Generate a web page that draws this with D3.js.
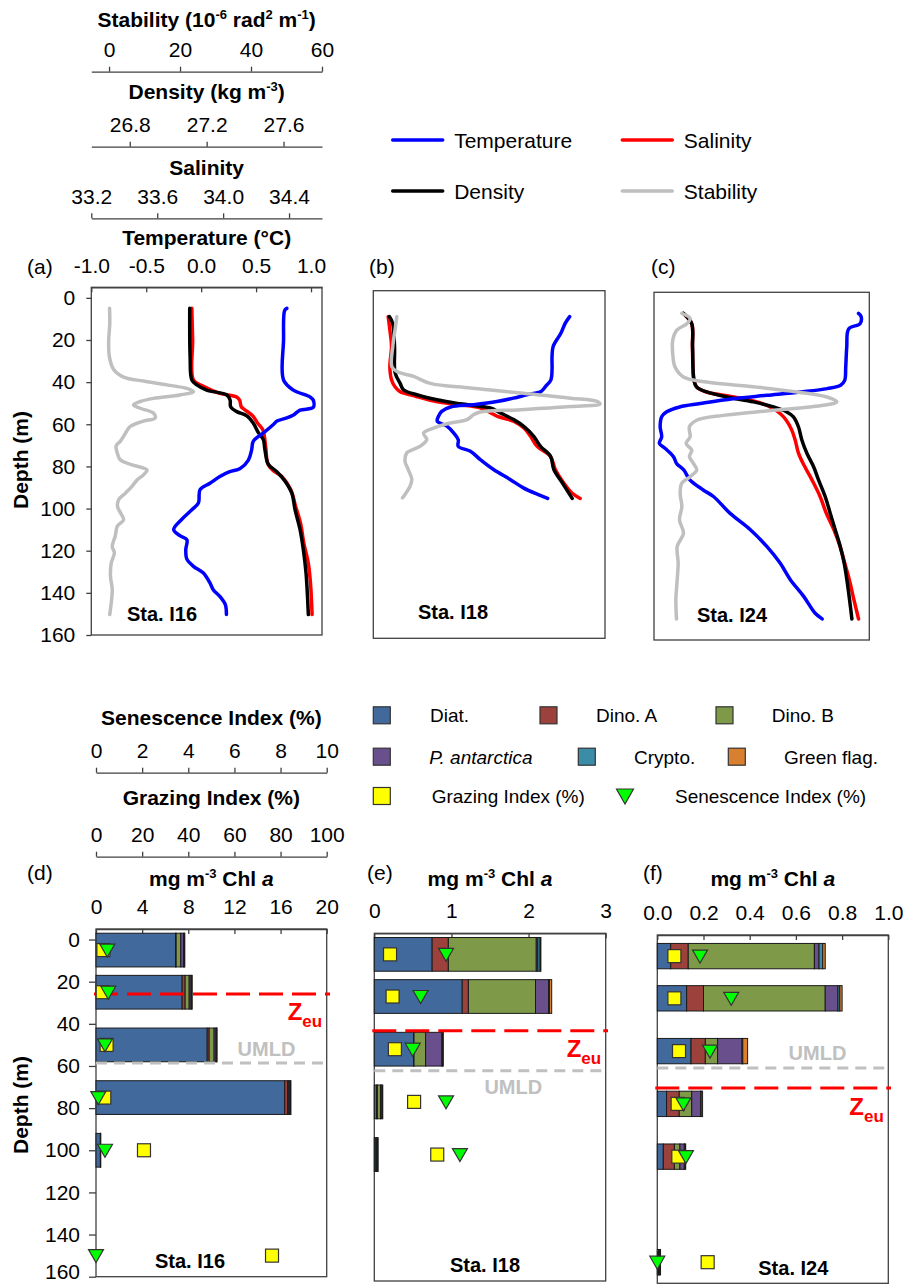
<!DOCTYPE html>
<html>
<head>
<meta charset="utf-8">
<script src="https://cdn.jsdelivr.net/npm/d3@7"></script>
<style>
body { margin: 0; background: #fff; }
svg { display: block; }
</style>
</head>
<body>
<svg id="chart" width="921" height="1284"></svg>
<script>
// ---------- profile data: [depth (m), value] ----------
const i16Temp = [[5,0.78],[6,0.76],[20,0.75],[39,0.75],[43.8,0.84],[47,0.99],[48.5,1.02],[52,1.02],[53.3,0.9],[55.6,0.84],[57,0.78],[58.5,0.69],[60,0.66],[64,0.57],[68,0.475],[72,0.46],[77,0.43],[81,0.355],[82.5,0.26],[84.8,0.17],[88,0.08],[91,-0.01],[97.4,-0.025],[100.6,-0.085],[105.3,-0.18],[110,-0.25],[113,-0.19],[114.8,-0.13],[119.5,-0.14],[124,-0.13],[127.4,-0.07],[130.6,0.02],[135.3,0.08],[138.5,0.11],[141.7,0.17],[145.6,0.22],[150.3,0.23]]
const i16Sal = [[5,33.81],[20,33.815],[39,33.82],[42,33.88],[45.3,33.98],[47,34.08],[48.5,34.10],[51.7,34.11],[53,34.13],[56,34.18],[59.5,34.21],[62.5,34.24],[65.7,34.25],[72,34.26],[78.5,34.27],[81.7,34.30],[84.8,34.356],[91,34.41],[99,34.44],[107,34.47],[116.5,34.49],[126,34.517],[135.3,34.53],[150.3,34.54]]
const i16Dens = [[5,27.112],[28,27.114],[39,27.123],[41.3,27.149],[43.8,27.2],[46.1,27.305],[48.5,27.322],[51.7,27.325],[54,27.357],[56,27.409],[59.5,27.443],[64,27.469],[67.3,27.495],[72,27.503],[79,27.521],[82.5,27.565],[87,27.608],[92.7,27.643],[100.6,27.66],[110,27.686],[119.5,27.703],[130.6,27.717],[150.3,27.729]]
const i16Stab = [[5,0.15],[12.5,0.2],[20,-0.1],[28,0.1],[34,1.3],[37.6,4.1],[39.5,9.7],[41.3,16.3],[43,21.9],[44.5,23.8],[46.1,20.0],[47.7,12.5],[49.2,8.8],[50.8,6.9],[52.4,8.8],[54.7,12.5],[57,13.0],[58.5,9.7],[61,6.0],[63.2,5.0],[65.7,4.1],[68,3.2],[70.3,2.0],[73.5,2.3],[77,3.2],[79,6.0],[81.7,10.7],[84,9.7],[86.4,7.9],[89.6,6.4],[92.7,4.6],[95.8,2.7],[99,2.4],[102,3.2],[105.3,4.1],[108.5,2.3],[113,1.75],[118,0.9],[121,1.5],[126,0.6],[132,0.4],[138.5,0.9],[145,0.6],[150.3,0.2]]

const i18Temp = [[7.3,0.78],[10.4,0.74],[15.2,0.70],[21.5,0.63],[26.2,0.62],[32.5,0.62],[37.3,0.61],[40.5,0.56],[42.8,0.52],[44.4,0.39],[46,0.27],[47.6,0.12],[49.1,-0.09],[50.2,-0.30],[52.3,-0.38],[54.7,-0.41],[57,-0.42],[59.4,-0.33],[62.6,-0.27],[65.7,-0.23],[68.9,-0.23],[71.2,-0.12],[75.2,-0.03],[79.9,0.09],[84.6,0.24],[88.6,0.36],[91.7,0.49],[93.6,0.58]]
const i18Sal = [[7.3,33.29],[13.6,33.30],[21.5,33.31],[31,33.30],[37.3,33.31],[40.5,33.33],[42.8,33.36],[45.2,33.46],[47.6,33.58],[49.1,33.71],[50.7,33.85],[53,33.91],[54.7,33.95],[57,34.05],[60.2,34.11],[64.1,34.15],[68.9,34.19],[73.6,34.27],[79.9,34.30],[86.2,34.35],[91,34.40],[93.6,34.45]]
const i18Dens = [[7.3,26.683],[10.4,26.70],[21.5,26.71],[34,26.713],[39,26.739],[42,26.756],[44.4,26.825],[46.8,26.93],[48.7,27.05],[50.7,27.206],[53,27.258],[56.2,27.327],[59.4,27.379],[64.1,27.431],[68.9,27.466],[73.6,27.518],[79.9,27.535],[86.2,27.579],[93.6,27.63]]
const i18Stab = [[7.3,1.6],[13.6,1.1],[21.5,0.46],[31,0.2],[33.4,1.6],[35.7,6.3],[39,11.0],[41.2,22.2],[43.6,36.3],[46,50.3],[47.6,57.9],[48.7,58.6],[50,50.3],[51.5,36.3],[52.6,25.0],[53.9,23.1],[56.2,21.3],[57.8,16.6],[60.2,11.9],[62.6,9.1],[65.7,10.0],[68.9,8.1],[72,4.4],[76,3.9],[79.9,4.8],[84.6,5.8],[87.8,5.3],[91.7,3.9],[93.3,3.2]]

const i24Temp = [[5,0.995],[6.5,1.02],[9.9,1.01],[12.3,0.90],[21,0.88],[30.5,0.87],[36.8,0.86],[39.1,0.82],[40.7,0.69],[42.3,0.43],[43.9,0.10],[45.5,-0.23],[47.8,-0.55],[49.4,-0.75],[51.8,-0.88],[54.1,-0.925],[58.8,-0.94],[63.6,-0.925],[66.7,-0.948],[69.1,-0.89],[73,-0.81],[76.2,-0.78],[79.3,-0.71],[84,-0.65],[88.8,-0.52],[91.9,-0.42],[99.8,-0.26],[107.7,-0.06],[115.6,0.10],[123.5,0.23],[131.4,0.33],[139.3,0.46],[147.2,0.57],[150,0.64]]
const i24Sal = [[5,33.39],[9.9,33.445],[21,33.45],[36.8,33.46],[40,33.478],[42.3,33.54],[44.7,33.72],[47,33.87],[49.4,33.955],[52.5,34.02],[55.7,34.06],[60.4,34.096],[65.1,34.118],[71.4,34.14],[77.7,34.18],[84,34.227],[91.9,34.28],[99.8,34.32],[107.7,34.37],[115.6,34.41],[123.5,34.44],[131.4,34.47],[140.9,34.50],[150,34.53]]
const i24Dens = [[5,26.764],[9.9,26.81],[21,26.815],[36.8,26.823],[40,26.838],[42.3,26.894],[44.7,27.006],[47,27.154],[49.4,27.266],[51.8,27.34],[54.1,27.377],[58.8,27.405],[65.1,27.424],[71.4,27.452],[77.7,27.489],[84,27.517],[91.9,27.554],[99.8,27.582],[107.7,27.61],[115.6,27.638],[123.5,27.66],[131.4,27.675],[140.9,27.69],[150,27.703]]
const i24Stab = [[5,3.4],[7.4,5.9],[9.9,4.9],[13,1.9],[17.8,0.65],[24.1,0.65],[30.5,1.35],[35.2,3.9],[37.6,10.9],[40,26.0],[42.3,38.1],[44.7,47.2],[47,50.2],[48.6,46.2],[51,31.1],[53.4,15.9],[55.7,7.9],[58.8,5.7],[63.6,5.9],[66.7,4.7],[69.9,6.4],[73,5.7],[76.2,6.9],[79.3,7.9],[82.5,5.9],[85.6,3.4],[90.4,2.9],[96.7,3.4],[103,2.7],[109.3,3.9],[115.6,2.0],[123.5,2.3],[131.4,2.0],[140.9,1.6],[150,1.8]]

// axis domains / ticks
const depthDomain = [-5, 160]
const depthTicks = [0, 20, 40, 60, 80, 100, 120, 140, 160]
const tempDomain = [-1, 1.1]
const tempTicks = [-1, -0.5, 0, 0.5, 1]
const salDomain = [33.2, 34.6]
const salTicks = [33.2, 33.6, 34.0, 34.4]
const densDomain = [26.6, 27.8]
const densTicks = [26.8, 27.2, 27.6]
const stabDomain = [-5, 60]
const stabTicks = [0, 20, 40, 60]

// ---------- pigment data ----------
const groups = ['Diat.', 'Dino. A', 'Dino. B', 'P. antarctica', 'Crypto.', 'Green flag.']
const sampleDepths = [5, 25, 50, 75, 100, 150]
// rows follow sampleDepths, columns follow groups (mg m-3 Chl a)
const chlI16 = [[6.9,0.05,0.4,0.25,0.05,0.05],[7.47,0.26,0.35,0.16,0.05,0.05],[9.64,0.17,0.43,0.16,0.05,0.05],[16.36,0.26,0.05,0.13,0.05,0.05],[0.38,0.01,0.01,0.01,0,0],[0,0,0,0,0,0]]
const chlI18 = [[0.75,0.21,1.14,0.02,0.03,0.01],[1.14,0.08,0.87,0.17,0.01,0.03],[0.51,0.005,0.15,0.21,0.01,0.01],[0.03,0.01,0.04,0.02,0.01,0],[0.02,0.01,0.01,0.01,0,0],[0,0,0,0,0,0]]
const chlI24 = [[0.058,0.076,0.546,0.02,0.016,0.011],[0.127,0.073,0.527,0.055,0.008,0.01],[0.146,0.062,0.053,0.106,0.003,0.021],[0.04,0.055,0.054,0.039,0.002,0.006],[0.026,0.048,0.024,0.019,0.002,0.004],[0.005,0.003,0.003,0.003,0,0]]
const grazI16 = [3.2, 2.9, 4.6, 3.6, 20.8, 76.3]
const senI16 = [0.49, 0.53, 0.39, 0.1, 0.39, 0.0]
const grazI18 = [6.8, 7.9, 8.9, 17.2, 27.2]
const senI18 = [3.1, 2.0, 1.66, 3.1, 3.7]
const grazI24 = [7.4, 7.4, 9.4, 8.8, 9.1, 21.8]
const senI24 = [1.85, 3.2, 2.28, 1.13, 1.24, 0.0]
const zeuDepths = [25.8, 41.2, 67.5]
const umldDepths = [58.6, 60.2, 58.0]
const senTicks = [0, 2, 4, 6, 8, 10]
const grazTicks = [0, 20, 40, 60, 80, 100]

// ---------- styles ----------
const FONT = '"Liberation Sans", Arial, Helvetica, sans-serif'
const AX = '#404040'
const groupColors = ['#41699c', '#9c413c', '#7e9a48', '#6a4f8d', '#3b8ca6', '#d8802f']

const svg = d3.select('#chart').attr('font-family', FONT)

function rich(sel, parts) {
	let shift = 0
	parts.forEach(p => {
		const target = p.sup ? -8 : p.sub ? 7 : 0
		const ts = sel.append('tspan').attr('dy', target - shift).text(p.t)
		if (p.sup || p.sub) ts.attr('font-size', p.fs || 13)
		if (p.italic) ts.attr('font-style', 'italic')
		shift = target
	})
	return sel
}

function label(x, y, parts, opts = {}) {
	const t = svg.append('text')
		.attr('x', x).attr('y', y)
		.attr('font-size', opts.size || 21)
		.attr('font-weight', opts.bold ? 'bold' : 'normal')
		.attr('text-anchor', opts.anchor || 'start')
		.attr('fill', opts.color || '#000')
	if (opts.transform) t.attr('transform', opts.transform)
	return rich(t, typeof parts === 'string' ? [{t: parts}] : parts)
}

function styleAxis(g) {
	g.attr('font-size', 21).attr('font-family', FONT)
	g.select('.domain').attr('stroke', AX).attr('stroke-width', 1.3)
	g.selectAll('.tick line').attr('stroke', AX).attr('stroke-width', 1.3)
	g.selectAll('.tick text').attr('fill', '#000')
}

// ---------- top: profile panels ----------
const profPanels = [
	{tag: '(a)', sta: 'Sta. I16', x0: 91.3, x1: 322, y0: 287.3, y1: 635, tagX: 27, staX: 162, staY: 621,
		temp: i16Temp, sal: i16Sal, dens: i16Dens, stab: i16Stab},
	{tag: '(b)', sta: 'Sta. I18', x0: 373.3, x1: 605, y0: 290.7, y1: 638.3, tagX: 369, staX: 453, staY: 619,
		temp: i18Temp, sal: i18Sal, dens: i18Dens, stab: i18Stab},
	{tag: '(c)', sta: 'Sta. I24', x0: 654, x1: 869.3, y0: 292.3, y1: 640, tagX: 651, staX: 732, staY: 622,
		temp: i24Temp, sal: i24Sal, dens: i24Dens, stab: i24Stab}
]

profPanels.forEach((p, i) => {
	const y = d3.scaleLinear(depthDomain, [p.y0, p.y1])
	const sx = {
		temp: d3.scaleLinear(tempDomain, [p.x0, p.x1]),
		sal: d3.scaleLinear(salDomain, [p.x0, p.x1]),
		dens: d3.scaleLinear(densDomain, [p.x0, p.x1]),
		stab: d3.scaleLinear(stabDomain, [p.x0, p.x1])
	}
	svg.append('rect')
		.attr('x', p.x0).attr('y', p.y0)
		.attr('width', p.x1 - p.x0).attr('height', p.y1 - p.y0)
		.attr('fill', 'none').attr('stroke', AX).attr('stroke-width', 1.3)

	const series = [
		{data: p.sal, sc: sx.sal, color: '#ff0000'},
		{data: p.dens, sc: sx.dens, color: '#000000'},
		{data: p.temp, sc: sx.temp, color: '#0000ff'},
		{data: p.stab, sc: sx.stab, color: '#bfbfbf'}
	]
	series.forEach(s => {
		const line = d3.line()
			.x(d => s.sc(d[1]))
			.y(d => y(d[0]))
			.curve(d3.curveCatmullRom.alpha(0.5))
		svg.append('path')
			.attr('d', line(s.data))
			.attr('fill', 'none')
			.attr('stroke', s.color)
			.attr('stroke-width', 3.5)
			.attr('stroke-linejoin', 'round')
			.attr('stroke-linecap', 'round')
	})

	label(p.tagX, 274, p.tag)
	label(p.staX, p.staY, p.sta, {bold: true, size: 20, anchor: 'middle'})

	if (i === 0) {
		// depth axis
		const gy = svg.append('g').attr('transform', `translate(${p.x0},0)`)
			.call(d3.axisLeft(y).tickValues(depthTicks).tickSize(5).tickSizeOuter(0).tickPadding(11))
		styleAxis(gy)
		gy.select('.domain').remove()
		label(0, 0, 'Depth (m)', {bold: true, anchor: 'middle', transform: 'translate(28,460) rotate(-90)'})

		// temperature axis on the frame, ticks inward
		const gt = svg.append('g').attr('transform', `translate(0,${p.y0})`)
			.call(d3.axisTop(sx.temp).tickValues(tempTicks).tickSizeInner(-5).tickSizeOuter(0).tickPadding(14)
				.tickFormat(d => d.toFixed(1)))
		styleAxis(gt)
		label((p.x0 + p.x1) / 2, 245.3, 'Temperature (°C)', {bold: true, anchor: 'middle'})

		const extra = [
			{sc: sx.stab, ticks: stabTicks, fmt: d => String(d), lineY: 71.7, titleY: 27,
				title: [{t: 'Stability (10'}, {t: '-6', sup: 1}, {t: ' rad'}, {t: '2', sup: 1}, {t: ' m'}, {t: '-1', sup: 1}, {t: ')'}]},
			{sc: sx.dens, ticks: densTicks, fmt: d => d.toFixed(1), lineY: 146.7, titleY: 98.6,
				title: [{t: 'Density (kg m'}, {t: '-3', sup: 1}, {t: ')'}]},
			{sc: sx.sal, ticks: salTicks, fmt: d => d.toFixed(1), lineY: 218.3, titleY: 174.5,
				title: [{t: 'Salinity'}]}
		]
		extra.forEach(a => {
			const g = svg.append('g').attr('transform', `translate(0,${a.lineY})`)
				.call(d3.axisTop(a.sc).tickValues(a.ticks).tickSize(5).tickSizeOuter(0).tickPadding(9.5).tickFormat(a.fmt))
			styleAxis(g)
			label((p.x0 + p.x1) / 2, a.titleY, a.title, {bold: true, anchor: 'middle'})
		})
	}
})

// top legend
const lineLegend = [
	{name: 'Temperature', color: '#0000ff', x: 392.7, y: 140},
	{name: 'Salinity', color: '#ff0000', x: 622.3, y: 140},
	{name: 'Density', color: '#000000', x: 392.7, y: 191},
	{name: 'Stability', color: '#bfbfbf', x: 622.3, y: 191}
]
lineLegend.forEach(l => {
	svg.append('line').attr('x1', l.x).attr('x2', l.x + 50).attr('y1', l.y).attr('y2', l.y)
		.attr('stroke', l.color).attr('stroke-width', 3.5).attr('stroke-linecap', 'round')
	label(l.x + 61.5, l.y + 7.5, l.name, {size: 21})
})

// ---------- bottom: pigment panels ----------
const chlPanels = [
	{tag: '(d)', sta: 'Sta. I16', x0: 96, x1: 326.7, y0: 929, y1: 1276.7, chlDomain: [0, 20], chlTicks: [0, 4, 8, 12, 16, 20],
		fmt: d => String(d), band: 16, rows: chlI16, graz: grazI16, sen: senI16, zeu: zeuDepths[0], umld: umldDepths[0],
		tagX: 27, staX: 190, staY: 1268, umldX: 266.5, umldDy: -6.6, zeuEnd: 330},
	{tag: '(e)', sta: 'Sta. I18', x0: 374.3, x1: 605.7, y0: 933.3, y1: 1281, chlDomain: [0, 3], chlTicks: [0, 1, 2, 3],
		fmt: d => String(d), band: 16, rows: chlI18, graz: grazI18, sen: senI18, zeu: zeuDepths[1], umld: umldDepths[1],
		tagX: 367, staX: 485, staY: 1272, umldX: 513.3, umldDy: 23, zeuEnd: 608},
	{tag: '(f)', sta: 'Sta. I24', x0: 657.3, x1: 888.3, y0: 935, y1: 1283.3, chlDomain: [0, 1], chlTicks: [0, 0.2, 0.4, 0.6, 0.8, 1.0],
		fmt: d => d.toFixed(1), band: 12, rows: chlI24, graz: grazI24, sen: senI24, zeu: zeuDepths[2], umld: umldDepths[2],
		tagX: 643, staX: 793.3, staY: 1275, umldX: 817.5, umldDy: -7.6, zeuEnd: 891}
]

const stack = d3.stack().keys(groups)

chlPanels.forEach((p, i) => {
	const y = d3.scaleLinear(depthDomain, [p.y0, p.y1])
	const x = d3.scaleLinear(p.chlDomain, [p.x0, p.x1])
	const xg = d3.scaleLinear([0, 100], [p.x0, p.x1])
	const xs = d3.scaleLinear([0, 10], [p.x0, p.x1])

	svg.append('rect')
		.attr('x', p.x0).attr('y', p.y0)
		.attr('width', p.x1 - p.x0).attr('height', p.y1 - p.y0)
		.attr('fill', 'none').attr('stroke', AX).attr('stroke-width', 1.3)

	const gx = svg.append('g').attr('transform', `translate(0,${p.y0})`)
		.call(d3.axisTop(x).tickValues(p.chlTicks).tickSizeInner(-5).tickSizeOuter(0).tickPadding(15).tickFormat(p.fmt))
	styleAxis(gx)

	label(p.tagX, 880, p.tag)
	label((p.x0 + p.x1) / 2, 886, [{t: 'mg m'}, {t: '-3', sup: 1}, {t: ' Chl '}, {t: 'a', italic: 1}], {bold: true, anchor: 'middle'})

	// stacked bars
	const table = p.rows.map((r, k) => {
		const o = {depth: sampleDepths[k]}
		groups.forEach((gname, j) => { o[gname] = r[j] })
		return o
	})
	const bandPx = y(p.band) - y(0)
	stack(table).forEach((layer, j) => {
		svg.append('g').selectAll('rect')
			.data(layer.filter(d => d[1] - d[0] > 0))
			.join('rect')
			.attr('x', d => x(d[0]))
			.attr('width', d => x(d[1]) - x(d[0]))
			.attr('y', d => y(d.data.depth) - bandPx / 2)
			.attr('height', bandPx)
			.attr('fill', groupColors[j])
			.attr('stroke', '#1a1a1a')
			.attr('stroke-width', 1)
	})

	// UMLD and Zeu lines
	const yu = y(p.umld)
	svg.append('line').attr('x1', p.x0).attr('x2', p.x1).attr('y1', yu).attr('y2', yu)
		.attr('stroke', '#c0c0c0').attr('stroke-width', 3).attr('stroke-dasharray', '11,7')
	label(p.umldX, yu + p.umldDy, 'UMLD', {bold: true, size: 20, anchor: 'middle', color: '#c0c0c0'})

	const yz = y(p.zeu)
	svg.append('line').attr('x1', p.x0 - 2).attr('x2', p.zeuEnd).attr('y1', yz).attr('y2', yz)
		.attr('stroke', '#ff0000').attr('stroke-width', 3).attr('stroke-dasharray', '24,9')
	label(p.x1 - 4.5, yz + 26.5, [{t: 'Z'}, {t: 'eu', sub: 1, fs: 17}], {bold: true, size: 24, anchor: 'end', color: '#ff0000'})

	// markers
	svg.append('g').selectAll('rect')
		.data(p.graz)
		.join('rect')
		.attr('x', d => xg(d) - 6.5)
		.attr('y', (d, k) => y(sampleDepths[k]) - 6.5)
		.attr('width', 13).attr('height', 13)
		.attr('fill', '#ffff00').attr('stroke', '#333').attr('stroke-width', 1.2)
	svg.append('g').selectAll('path')
		.data(p.sen)
		.join('path')
		.attr('d', (d, k) => {
			const cx = xs(d), cy = y(sampleDepths[k])
			return `M${cx - 7.5},${cy - 6}L${cx + 7.5},${cy - 6}L${cx},${cy + 7}Z`
		})
		.attr('fill', '#00ff00').attr('stroke', '#333').attr('stroke-width', 1.2)

	label(p.staX, p.staY, p.sta, {bold: true, size: 20, anchor: 'middle'})

	if (i === 0) {
		const gy = svg.append('g').attr('transform', `translate(${p.x0},0)`)
			.call(d3.axisLeft(y).tickValues(depthTicks).tickSize(7).tickSizeOuter(0).tickPadding(9))
		styleAxis(gy)
		gy.select('.domain').remove()
		// keep the bottom label inside the picture
		gy.selectAll('.tick text').filter(d => d === 160).attr('dy', '0.08em')
		label(0, 0, 'Depth (m)', {bold: true, anchor: 'middle', transform: 'translate(28,1105) rotate(-90)'})

		const extra = [
			{sc: xs, ticks: senTicks, lineY: 772.7, titleY: 725.3, title: 'Senescence Index (%)'},
			{sc: xg, ticks: grazTicks, lineY: 856.7, titleY: 805.3, title: 'Grazing Index (%)'}
		]
		extra.forEach(a => {
			const g = svg.append('g').attr('transform', `translate(0,${a.lineY})`)
				.call(d3.axisTop(a.sc).tickValues(a.ticks).tickSize(5).tickSizeOuter(0).tickPadding(9.5))
			styleAxis(g)
			label((p.x0 + p.x1) / 2, a.titleY, a.title, {bold: true, anchor: 'middle'})
		})
	}
})

// bottom legend
const legendItems = [
	{name: 'Diat.', kind: 'sq', color: groupColors[0], x: 373.3, tx: 430, y: 715.3},
	{name: 'Dino. A', kind: 'sq', color: groupColors[1], x: 540, tx: 596, y: 715.3},
	{name: 'Dino. B', kind: 'sq', color: groupColors[2], x: 716, tx: 771.7, y: 715.3},
	{name: 'P. antarctica', kind: 'sq', color: groupColors[3], x: 373.3, tx: 429.3, y: 756.7, italic: true},
	{name: 'Crypto.', kind: 'sq', color: groupColors[4], x: 578.3, tx: 634, y: 756.7},
	{name: 'Green flag.', kind: 'sq', color: groupColors[5], x: 728.3, tx: 784, y: 756.7},
	{name: 'Grazing Index (%)', kind: 'sq', color: '#ffff00', x: 373.3, tx: 431.7, y: 796},
	{name: 'Senescence Index (%)', kind: 'tri', color: '#00ff00', x: 616.5, tx: 675, y: 796}
]
legendItems.forEach(l => {
	if (l.kind === 'sq') {
		svg.append('rect').attr('x', l.x).attr('y', l.y - 8.5).attr('width', 17).attr('height', 17)
			.attr('fill', l.color).attr('stroke', '#333').attr('stroke-width', 1.2)
	} else {
		const cx = l.x + 8.5
		svg.append('path').attr('d', `M${cx - 8.5},${l.y - 7}L${cx + 8.5},${l.y - 7}L${cx},${l.y + 8}Z`)
			.attr('fill', l.color).attr('stroke', '#333').attr('stroke-width', 1.2)
	}
	label(l.tx, l.y + 7, [{t: l.name, italic: l.italic}], {size: 19})
})
</script>
</body>
</html>
